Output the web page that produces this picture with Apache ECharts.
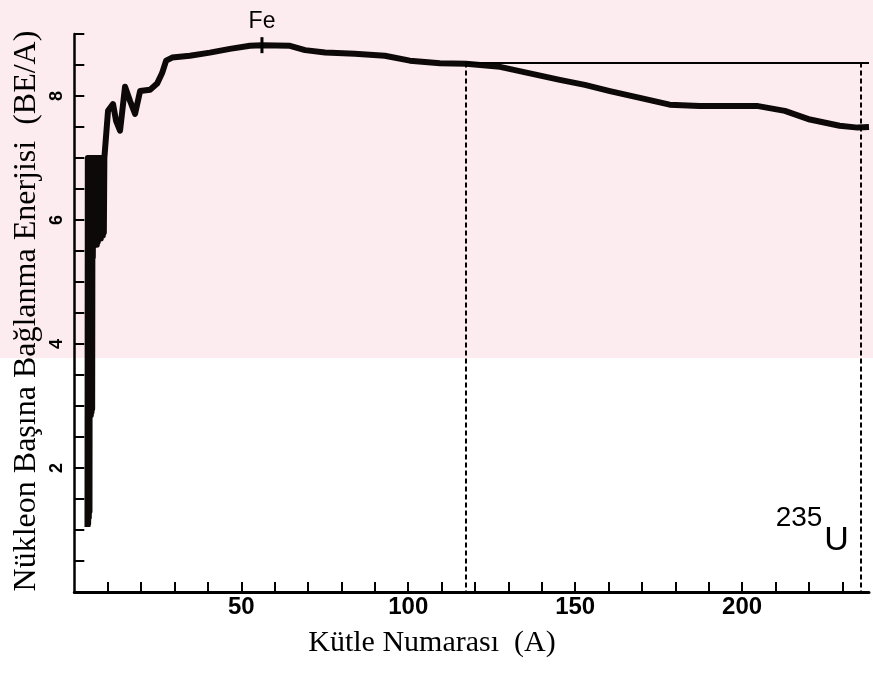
<!DOCTYPE html>
<html><head><meta charset="utf-8">
<script src="https://cdn.jsdelivr.net/npm/echarts@6/dist/echarts.min.js"></script>
<style>html,body{margin:0;padding:0;background:#fff}#c{width:873px;height:674px}</style>
</head><body><div id="c"></div>
<script>
// Mass number A and binding energy per nucleon (MeV)
const massNumber = [3.95,4.05,4.15,4.25,4.35,4.45,4.55,4.65,4.75,4.85,4.95,5.05,5.15,5.25,5.35,5.45,
  5.55,5.7,5.85,6.0,6.15,6.3,6.45,6.6,6.75,6.9,7.05,7.2,7.35,7.5,7.65,7.8,7.95,8.1,8.25,8.4,8.55,8.7,8.85,9.0,9.3,
  10.1,11.6,12.5,13.7,15.2,16.7,18.2,19.7,22.7,24.8,26.3,27.5,29.3,34.6,40.6,46.6,52.6,56.2,
  64.6,69.1,75.1,84.0,93.0,100.5,109.5,117.3,127.5,136.1,145.4,152.9,160.4,169.4,178.3,187.3,
  204.4,212.8,220.3,229.2,234.6,238];
const bindingEnergy = [1.05,7.0,1.1,7.0,1.2,7.0,1.3,7.0,2.9,7.0,2.85,7.0,2.9,7.0,2.95,7.0,
  5.4,7.0,5.6,7.0,5.6,7.0,5.65,7.0,5.6,7.0,5.65,7.0,5.7,7.0,5.7,7.0,5.7,7.0,5.75,7.0,5.75,7.0,5.8,7.0,7.0,
  7.76,7.87,7.6,7.44,8.15,7.92,7.71,8.08,8.1,8.2,8.37,8.57,8.62,8.65,8.70,8.76,8.81,8.82,
  8.81,8.74,8.70,8.68,8.65,8.57,8.53,8.52,8.47,8.37,8.26,8.18,8.08,7.97,7.86,7.84,
  7.84,7.76,7.62,7.52,7.49,7.5];
const xTickLabels = [50,100,150,200];
const yTickLabels = [2,4,6,8];
const feMass = 56.2, feEnergy = 8.82;
const fissionMass = 117.3, uraniumMass = 235.5, referenceEnergy = 8.54;

const chart = echarts.init(document.getElementById('c'), null, {renderer:'canvas'});
const curve = massNumber.map((a,i)=>[a, bindingEnergy[i]]);
chart.setOption({
  animation:false,
  backgroundColor:'#ffffff',
  grid:{left:74.3,right:4,top:34,bottom:82,containLabel:false},
  graphic:[
    {type:'rect',z:-10,silent:true,shape:{x:0,y:0,width:873,height:358},style:{fill:'#fdecef'}},
    {type:'text',x:432,y:643,style:{text:'Kütle Numarası  (A)',font:'30px "Liberation Serif"',fill:'#000',textAlign:'center',textVerticalAlign:'middle'}},
    {type:'text',x:27,y:311,rotation:Math.PI/2,style:{text:'Nükleon Başına Bağlanma Enerjisi  (BE/A)',font:'32px "Liberation Serif"',fill:'#000',textAlign:'center',textVerticalAlign:'middle'}},
    {type:'text',x:262,y:22,style:{text:'Fe',font:'23px "Liberation Sans"',fill:'#000',textAlign:'center',textVerticalAlign:'middle'}},
    {type:'text',x:799,y:518,style:{text:'235',font:'28px "Liberation Sans"',fill:'#000',textAlign:'center',textVerticalAlign:'middle'}},
    {type:'text',x:836.5,y:541,style:{text:'U',font:'34px "Liberation Sans"',fill:'#000',textAlign:'center',textVerticalAlign:'middle'}}
  ],
  xAxis:{type:'value',min:0,max:238,interval:10,
    axisLine:{lineStyle:{color:'#000',width:3}},
    axisTick:{inside:true,length:10,lineStyle:{color:'#000',width:2}},
    axisLabel:{formatter:v=>xTickLabels.includes(v)?String(v):'',fontSize:24,fontWeight:'bold',fontFamily:'Liberation Sans',color:'#000',margin:3,showMaxLabel:false,showMinLabel:false},
    splitLine:{show:false}},
  yAxis:{type:'value',min:0,max:9,interval:0.5,
    axisLine:{lineStyle:{color:'#000',width:2.5}},
    axisTick:{inside:true,length:10,lineStyle:{color:'#000',width:2}},
    axisLabel:{formatter:v=>yTickLabels.includes(v)?String(v):'',rotate:90,fontSize:18,fontWeight:'bold',fontFamily:'Liberation Sans',color:'#000',margin:8},
    splitLine:{show:false}},
  series:[{
    type:'line',data:curve,symbol:'none',
    lineStyle:{color:'#0d0909',width:6,join:'round'},
    markLine:{silent:true,symbol:'none',label:{show:false},
      data:[
        [{coord:[fissionMass,referenceEnergy],lineStyle:{type:'solid',width:2,color:'#000'}},{coord:[238,referenceEnergy]}],
        [{coord:[fissionMass,referenceEnergy],lineStyle:{type:[5,3],width:2,color:'#000'}},{coord:[fissionMass,0]}],
        [{coord:[uraniumMass,referenceEnergy],lineStyle:{type:[5,3],width:2,color:'#000'}},{coord:[uraniumMass,0]}]
      ]},
    markPoint:{silent:true,label:{show:false},
      data:[{coord:[feMass,feEnergy],symbol:'rect',symbolSize:[3,16],itemStyle:{color:'#000'}}]}
  }]
});
</script></body></html>
